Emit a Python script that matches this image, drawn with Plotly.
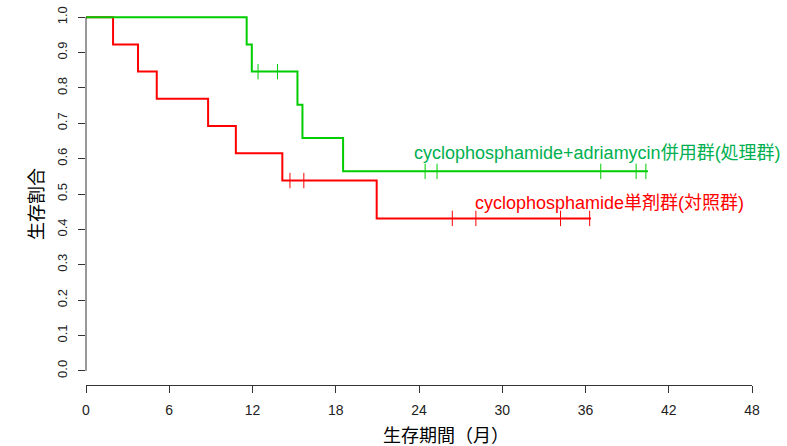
import plotly.graph_objects as go

# Kaplan-Meier step curves (time in months, survival proportion after each event)
ctrl_event_t = [0, 1.95, 3.75, 5.1, 8.8, 10.8, 14.15, 20.95]
ctrl_surv = [1.0, 0.923, 0.846, 0.769, 0.692, 0.615, 0.538, 0.431]
ctrl_end_t = 36.4
ctrl_censor_t = [14.7, 15.7, 26.4, 28.1, 34.2, 36.3]

trt_event_t = [0, 11.58, 11.95, 15.24, 15.6, 18.53]
trt_surv = [1.0, 0.923, 0.846, 0.752, 0.658, 0.564]
trt_end_t = 40.5
trt_censor_t = [12.4, 13.8, 24.44, 25.3, 37.1, 39.65, 40.35]

x_ticks = [0, 6, 12, 18, 24, 30, 36, 42, 48]
y_ticks = [0.0, 0.1, 0.2, 0.3, 0.4, 0.5, 0.6, 0.7, 0.8, 0.9, 1.0]

ctrl_label = "cyclophosphamide単剤群(対照群)"
trt_label = "cyclophosphamide+adriamycin併用群(処理群)"

RED = "#ff0000"
GREEN = "#00cd00"
GREEN_TEXT = "#00b050"
LABEL_FONT = "Liberation Sans, Noto Sans CJK JP"


def surv_at(t, times, surv):
    s = surv[0]
    for ti, si in zip(times, surv):
        if t >= ti:
            s = si
    return s


fig = go.Figure()

for times, surv, end_t, cens, color in [
    (ctrl_event_t, ctrl_surv, ctrl_end_t, ctrl_censor_t, RED),
    (trt_event_t, trt_surv, trt_end_t, trt_censor_t, GREEN),
]:
    xs = list(times) + [end_t]
    ys = list(surv) + [surv[-1]]
    fig.add_trace(go.Scatter(
        x=xs, y=ys, mode="lines", line=dict(color=color, width=2, shape="hv"),
        showlegend=False, hoverinfo="skip",
    ))
    fig.add_trace(go.Scatter(
        x=cens, y=[surv_at(t, times, surv) for t in cens], mode="markers",
        marker=dict(symbol="line-ns", size=11, line=dict(color=color, width=1)),
        showlegend=False, hoverinfo="skip",
    ))

fig.add_annotation(x=23.5, y=0.616, xref="x", yref="y", text=trt_label,
                   showarrow=False, xanchor="left", yanchor="middle",
                   font=dict(color=GREEN_TEXT, size=18, family=LABEL_FONT))
fig.add_annotation(x=27.9, y=0.474, xref="x", yref="y", text=ctrl_label,
                   showarrow=False, xanchor="left", yanchor="middle",
                   font=dict(color=RED, size=18, family=LABEL_FONT))

# axis titles (paper coords are relative to the plotting area)
fig.add_annotation(x=0.4431, y=-0.128, xref="paper", yref="paper",
                   text="生存期間（月）", showarrow=False, xanchor="left", yanchor="middle",
                   font=dict(color="black", size=18, family="Noto Sans CJK JP"))
fig.add_annotation(x=-0.0766, y=0.4736, xref="paper", yref="paper",
                   text="生存割合", showarrow=False, textangle=-90,
                   xanchor="center", yanchor="middle",
                   font=dict(color="black", size=18, family="Noto Sans CJK JP"))

# y axis line spans only 0..1
fig.add_shape(type="line", xref="paper", yref="y", x0=0, x1=0, y0=0, y1=1,
              line=dict(color="#333333", width=1))

fig.update_layout(
    width=787, height=446,
    margin=dict(l=86, r=35.3, t=2.5, b=60.7),
    plot_bgcolor="white", paper_bgcolor="white",
    font=dict(family="Liberation Sans, Arial", size=13, color="#222222"),
    xaxis=dict(range=[0, 48], tickvals=x_ticks, ticktext=[str(v) for v in x_ticks],
               showgrid=False, zeroline=False, showline=True, linecolor="#333333",
               linewidth=1, ticks="outside", ticklen=7, tickcolor="#333333",
               tickfont=dict(size=14), ticklabelstandoff=5),
    yaxis=dict(range=[-0.04, 1.04], tickvals=y_ticks,
               ticktext=[f"{v:.1f}" for v in y_ticks], tickangle=-90,
               showgrid=False, zeroline=False, showline=False,
               ticks="outside", ticklen=7, tickcolor="#333333",
               tickfont=dict(size=13), ticklabelstandoff=6),
)

fig.write_html("out.html")
